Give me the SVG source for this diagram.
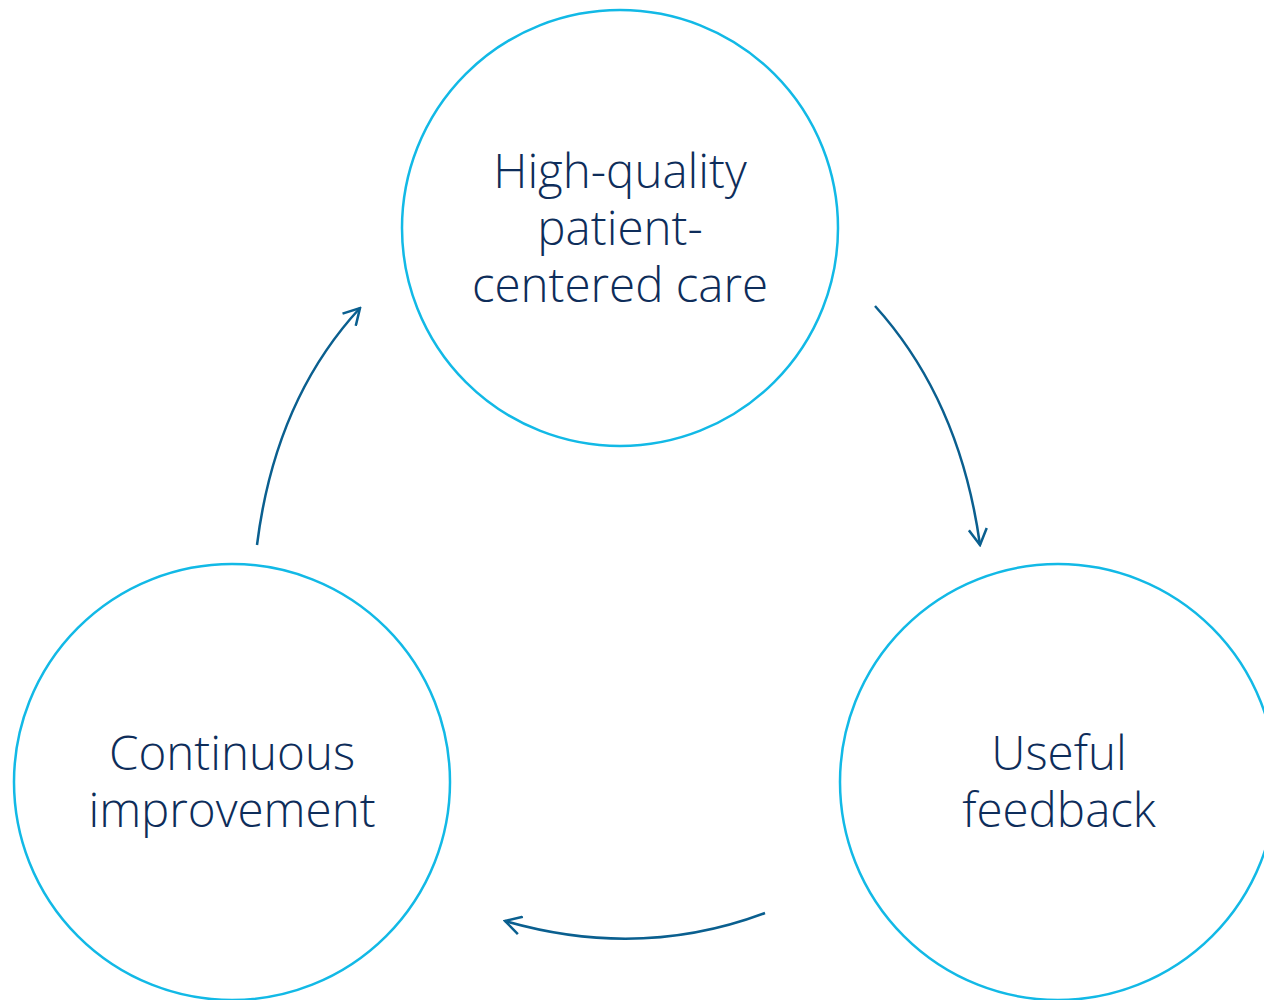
<svg xmlns="http://www.w3.org/2000/svg" width="1264" height="1000" viewBox="0 0 1264 1000">
<defs>
<style>
.node circle{fill:#fff;stroke:#12b9e6;stroke-width:2.5}
.node text{font-family:"Segoe UI","Open Sans","Noto Sans",sans-serif;font-weight:300;font-size:47.5px;fill:#0e2d5a;text-anchor:middle}
.conn path{fill:none;stroke:#0a5f8f;stroke-width:2.5}
</style>
<marker id="ah" viewBox="0 0 20 20" refX="18" refY="10" markerWidth="20" markerHeight="20" markerUnits="userSpaceOnUse" orient="auto">
<path d="M2,1 L18,10 L2,19" fill="none" stroke="#0a5f8f" stroke-width="2.5"/>
</marker>
</defs>
<rect width="1264" height="1000" fill="#fff"/>
<g id="node-care" class="node">
<circle cx="620" cy="228" r="218"/>
<text x="620" y="188"><tspan x="620" y="188">High-quality</tspan><tspan x="620" y="245">patient-</tspan><tspan x="620" y="302">centered care</tspan></text>
</g>
<g id="node-feedback" class="node">
<circle cx="1058" cy="782" r="218"/>
<text x="1059" y="770"><tspan x="1059" y="770">Useful</tspan><tspan x="1059" y="827">feedback</tspan></text>
</g>
<g id="node-improvement" class="node">
<circle cx="232" cy="782" r="218"/>
<text x="232" y="770"><tspan x="232" y="770">Continuous</tspan><tspan x="232" y="827">improvement</tspan></text>
</g>
<g id="connectors" class="conn">
<path d="M257,545 Q275,400 360,308" marker-end="url(#ah)"/>
<path d="M875,306 Q960,400 980,545" marker-end="url(#ah)"/>
<path d="M765,913 Q640,960 505,921" marker-end="url(#ah)"/>
</g>
</svg>
